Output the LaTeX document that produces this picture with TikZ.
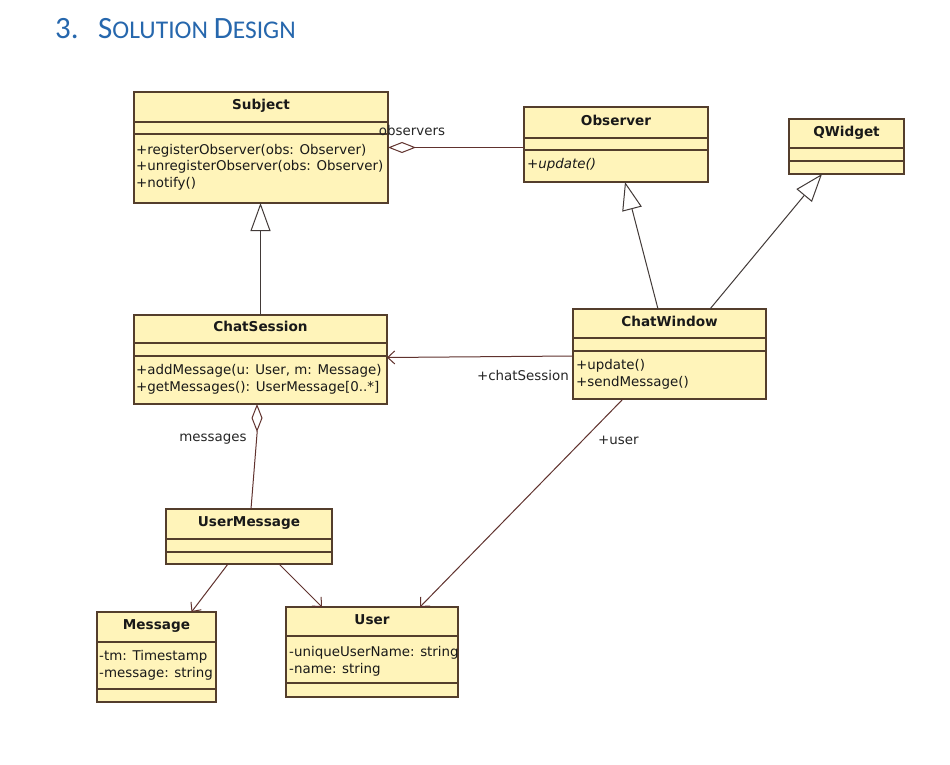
\documentclass[tikz,border=0pt]{standalone}
\usepackage{fontspec}
\setmainfont{DejaVu Sans}
\newfontfamily\headfont{Carlito}
\usetikzlibrary{arrows.meta}
\definecolor{clsfill}{RGB}{255,244,186}
\definecolor{clsdraw}{RGB}{84,62,44}
\definecolor{conn}{RGB}{96,50,46}
\definecolor{gencol}{RGB}{66,58,56}
\definecolor{headblue}{RGB}{38,103,173}
\newcommand\hcA{\fontsize{31}{34}\selectfont}
\newcommand\hcB{\fontsize{25.5}{34}\selectfont}
\tikzset{
 cls/.style={draw=clsdraw, fill=clsfill, line width=1.1pt, rectangle, inner sep=0pt, outer sep=0pt},
 clsline/.style={draw=clsdraw, line width=1.1pt},
 clstitle/.style={font=\fontsize{13.6}{16}\selectfont\bfseries, text=black!90, inner sep=0pt, anchor=mid},
 member/.style={font=\fontsize{13.4}{16}\selectfont, text=black!90, inner sep=0pt, anchor=mid west, yshift=-1.5pt},
 lbl/.style={font=\fontsize{13.4}{16}\selectfont, text=black!85, inner sep=0pt},
 assoc/.style={draw=conn, line width=1pt},
 genline/.style={draw=gencol, line width=1pt},
 opentip/.style={-{Straight Barb[length=7pt,width=13pt]}},
 gentip/.style={-{Triangle[open,length=28pt,width=20pt,fill=white]}},
 aggtip/.style={{Diamond[open,length=28pt,width=11pt,fill=white]}-},
}
\newcommand\umlbox[8]{%
  \node[cls, anchor=north west, minimum width={#4-#2}, minimum height={#5-#3}] (#1) at (#2,#3) {};
  \draw[clsline] (#2,#6) -- (#4,#6);
  \draw[clsline] (#2,#7) -- (#4,#7);
  \node[clstitle] (#1-t) at ({(#2+#4)/2},{(#3+#6)/2}) {#8};
}
\begin{document}
\begin{tikzpicture}[x=1pt,y=-1pt]
\useasboundingbox[fill=white] (0,0) rectangle (950,765);

% heading
\node[anchor=base west, inner sep=0pt, text=headblue, font=\headfont\hcA] (hnum) at (55,39) {3.};
\node[anchor=base west, inner sep=0pt, text=headblue, font=\headfont] (htitle) at (98,39) {\hcA S\hcB OLUTION \hcA D\hcB ESIGN};

% classes
\umlbox{sub}{134}{92}{388}{203}{122}{134}{Subject}
\umlbox{obs}{524}{107}{708}{182}{138}{150}{Observer}
\umlbox{qw}{789}{119}{904}{174}{148}{161}{QWidget}
\umlbox{cs}{134}{315}{387}{404}{343}{356}{ChatSession}
\umlbox{cw}{573}{309}{766}{399}{338}{351}{ChatWindow}
\umlbox{um}{166}{509}{332}{564}{539}{552}{UserMessage}
\umlbox{msg}{97}{612}{216}{702}{642}{689}{Message}
\umlbox{usr}{286}{607}{458}{697}{636}{683}{User}

% members
\node[member] (sub-m1) at (136,150) {+registerObserver(obs: Observer)};
\node[member] (sub-m2) at (136,166) {+unregisterObserver(obs: Observer)};
\node[member] (sub-m3) at (136,183) {+notify()};
\node[member] (obs-m1) at (527,164) {\itshape +update()};
\node[member] (cs-m1) at (136,370) {+addMessage(u: User, m: Message)};
\node[member] (cs-m2) at (136,387) {+getMessages(): UserMessage[0..*]};
\node[member] (cw-m1) at (576,365) {+update()};
\node[member] (cw-m2) at (576,382) {+sendMessage()};
\node[member] (msg-m1) at (99,656) {-tm: Timestamp};
\node[member] (msg-m2) at (99,673) {-message: string};
\node[member] (usr-m1) at (289,652) {-uniqueUserName: string};
\node[member] (usr-m2) at (289,669) {-name: string};

% connectors
\draw[assoc, aggtip] (sub.east) -- (sub.east -| obs.west);
\node[lbl] (lobs) at (412,131) {observers};

\draw[genline, gentip] (cs.north) -- (cs.north |- sub.south);
\draw[genline, gentip] ([xshift=-11.5pt]cw.north) -- ([xshift=9pt]obs.south);
\draw[genline, gentip] ([xshift=40.5pt]cw.north) -- ([xshift=-24.5pt]qw.south);

\draw[assoc, opentip] ([yshift=-2pt]cw.west) -- ([yshift=2pt]cs.east);
\node[lbl, anchor=mid east] (lcs) at (569,378) {+chatSession};

\draw[assoc, aggtip] ([xshift=-3.5pt]cs.south) -- ++(0,30) -- ([xshift=2pt]um.north);
\node[lbl] (lmsgs) at (213,439) {messages};

\draw[assoc, opentip] ([xshift=-21pt]um.south) -- ([xshift=35pt]msg.north);
\draw[assoc, opentip] ([xshift=30pt]um.south) -- ([xshift=-50pt]usr.north);
\draw[assoc, opentip] ([xshift=-46.5pt]cw.south) -- ([xshift=48pt]usr.north);
\node[lbl, anchor=mid west] (luser) at (598,442) {+user};
\end{tikzpicture}
\end{document}
